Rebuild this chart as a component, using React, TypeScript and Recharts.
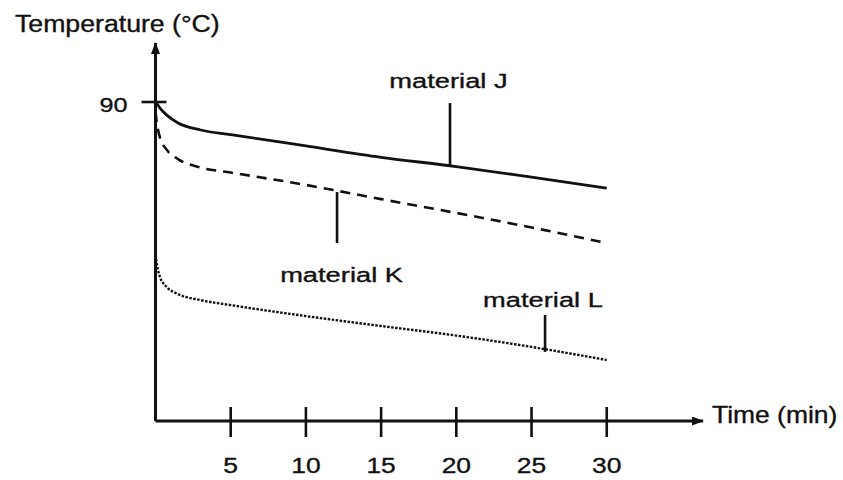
import React from "react";
import { LineChart, Line, XAxis, YAxis, ReferenceLine, ReferenceDot } from "recharts";

// time in minutes, temperature in °C (origin of the temperature axis taken as 0)
const times = [0, 0.1, 0.3, 0.75, 1.5, 3, 5, 10, 15, 20, 25, 30];
const materialJ = [90.0, 89.5, 88.3, 86.3, 84.1, 82.1, 80.8, 77.6, 74.4, 71.8, 68.8, 65.7];
const materialK = [87.2, 83.8, 79.9, 76.5, 73.9, 71.5, 70.1, 66.6, 62.6, 58.7, 54.6, 50.2];
const materialL = [46.8, 44.0, 40.6, 37.8, 35.8, 34.1, 32.7, 29.6, 26.8, 24.1, 20.9, 17.2];

const timeTicks = [5, 10, 15, 20, 25, 30];
const tempTicks = [90];

// annotations: text anchor and leader line, in (time, temperature)
const labelNames = ["material J", "material K", "material L"];
const labelTime = [19.48, 12.37, 25.76];
const labelTemp = [93.96, 39.2, 32.2];
const leaderTime = [19.58, 12.07, 25.9];
const leaderTop = [89.7, 64.6, 29.9];
const leaderBottom = [71.7, 50.2, 19.5];

const INK = "#111";
const FONT = "'Liberation Sans', Arial, Helvetica, sans-serif";

const data = times.map((t, i) => ({ t, J: materialJ[i], K: materialK[i], L: materialL[i] }));

// the scanned figure has slightly wide, heavy lettering
function StretchText({ x, y, anchor = "start", size, sx, children }: any) {
  return (
    <text
      transform={`translate(${x},${y}) scale(${sx},1)`}
      textAnchor={anchor}
      fontSize={size}
      fontFamily={FONT}
      fill={INK}
      stroke={INK}
      strokeWidth={0.35}
    >
      {children}
    </text>
  );
}

const TimeTick = (props: any) => {
  const { x, y, payload } = props;
  return (
    <g>
      <line x1={x} x2={x} y1={y - 14} y2={y + 16} stroke={INK} strokeWidth={2.6} />
      <StretchText x={x} y={y + 52} anchor="middle" size={22} sx={1.2}>
        {payload.value}
      </StretchText>
    </g>
  );
};

const TempTick = (props: any) => {
  const { x, y, payload } = props;
  return (
    <g>
      <line x1={x - 14} x2={x + 11} y1={y} y2={y} stroke={INK} strokeWidth={2.6} />
      <StretchText x={x - 28} y={y + 10} anchor="end" size={21} sx={1.2}>
        {payload.value}
      </StretchText>
    </g>
  );
};

export default function App() {
  return (
    <div style={{ position: "absolute", left: 0, top: 0, width: 843, height: 480, background: "#fff", fontFamily: FONT }}>
      <svg width={0} height={0} style={{ position: "absolute" }}>
        <defs>
          <marker
            id="arrowHead"
            viewBox="0 0 12 9"
            refX={11}
            refY={4.5}
            markerUnits="userSpaceOnUse"
            markerWidth={12}
            markerHeight={9}
            orient="auto-start-reverse"
          >
            <path d="M0,0 L12,4.5 L0,9 z" fill={INK} />
          </marker>
        </defs>
      </svg>
      <LineChart width={843} height={480} data={data} margin={{ top: 43, right: 140, bottom: 58, left: 154.5 }}>
        <XAxis
          type="number"
          dataKey="t"
          domain={[0, 36.4]}
          ticks={timeTicks}
          height={1}
          tickSize={0}
          tickMargin={0}
          tickLine={false}
          tick={<TimeTick />}
          axisLine={{ stroke: INK, strokeWidth: 2.8, markerEnd: "url(#arrowHead)" }}
          label={{
            content: (p: any) => (
              <StretchText x={p.viewBox.x + p.viewBox.width + 9} y={p.viewBox.y + 2} size={23} sx={1.15}>
                Time (min)
              </StretchText>
            ),
          }}
        />
        <YAxis
          type="number"
          domain={[0, 106.65]}
          ticks={tempTicks}
          width={1}
          tickSize={0}
          tickMargin={0}
          tickLine={false}
          tick={<TempTick />}
          axisLine={{ stroke: INK, strokeWidth: 3, markerStart: "url(#arrowHead)" }}
          label={{
            content: (p: any) => (
              <StretchText x={p.viewBox.x + p.viewBox.width - 140.5} y={p.viewBox.y - 11.3} size={23} sx={1.16}>
                Temperature (°C)
              </StretchText>
            ),
          }}
        />
        <Line type="monotone" dataKey="J" stroke={INK} strokeWidth={2.8} dot={false} activeDot={false} isAnimationActive={false} />
        <Line type="monotone" dataKey="K" stroke={INK} strokeWidth={2.6} strokeDasharray="10 7" dot={false} activeDot={false} isAnimationActive={false} />
        <Line type="monotone" dataKey="L" stroke={INK} strokeWidth={2.4} strokeDasharray="2.5 1.5" dot={false} activeDot={false} isAnimationActive={false} />
        {labelNames.map((name, i) => (
          <ReferenceLine
            key={`leader-${name}`}
            segment={[
              { x: leaderTime[i], y: leaderTop[i] },
              { x: leaderTime[i], y: leaderBottom[i] },
            ]}
            stroke={INK}
            strokeWidth={2.6}
          />
        ))}
        {labelNames.map((name, i) => (
          <ReferenceDot
            key={`label-${name}`}
            x={labelTime[i]}
            y={labelTemp[i]}
            r={0}
            shape={(p: any) => (
              <StretchText x={p.cx} y={p.cy} anchor="middle" size={21} sx={1.3}>
                {name}
              </StretchText>
            )}
          />
        ))}
      </LineChart>
    </div>
  );
}
